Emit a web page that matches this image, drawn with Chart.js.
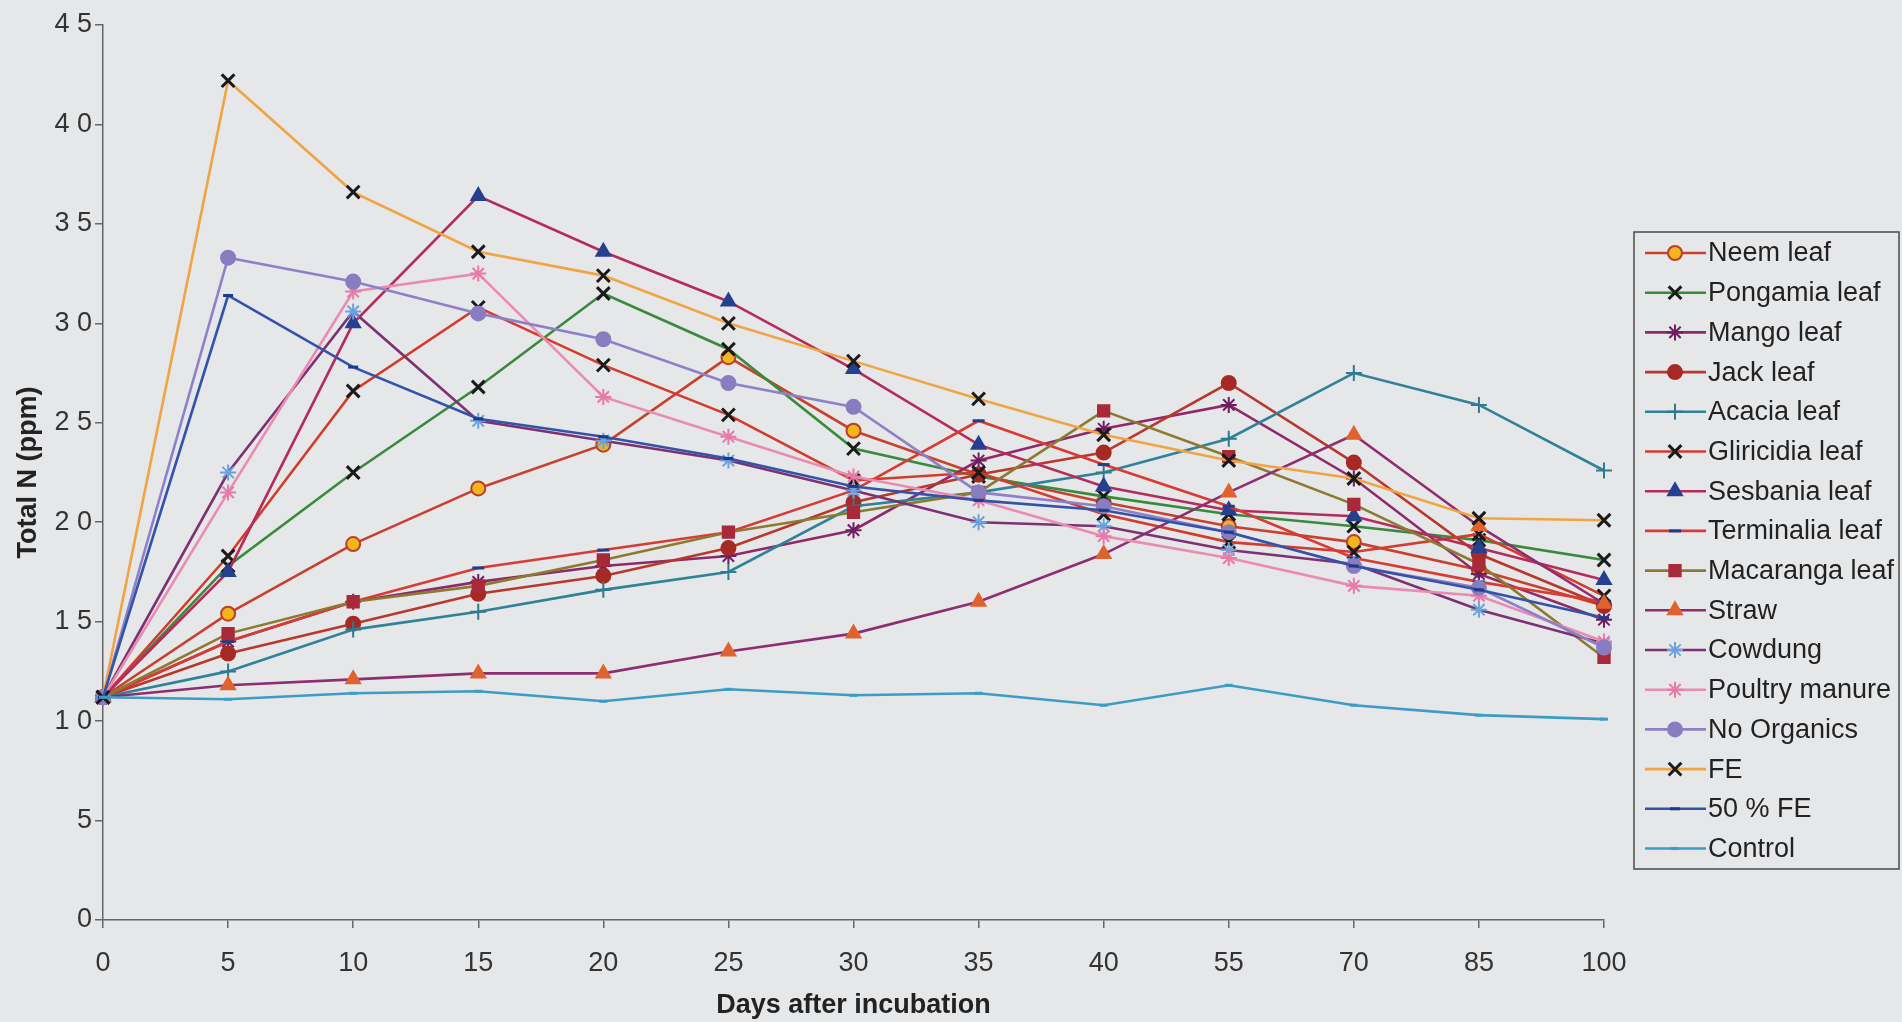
<!DOCTYPE html>
<html>
<head>
<meta charset="utf-8">
<script src="https://cdn.jsdelivr.net/npm/chart.js@4.4.0/dist/chart.umd.min.js"></script>
<style>
  html, body { margin: 0; padding: 0; background: #e6e7e9; }
  #wrap { width: 1902px; height: 1022px; }
</style>
</head>
<body>
<div id="wrap"><canvas id="nChart" width="1902" height="1022"></canvas></div>
<script>
// Days after incubation (x categories) and y tick labels as printed
var days = ['0', '5', '10', '15', '20', '25', '30', '35', '40', '55', '70', '85', '100'];
var yTickLabels = ['0', '5', '1 0', '1 5', '2 0', '2 5', '3 0', '3 5', '4 0', '4 5'];

// Total N values per treatment
var neemLeaf       = [11.2, 15.4, 18.9, 21.7, 23.9, 28.3, 24.6, 22.4, 21.0, 19.8, 19.0, 17.6, 15.8];
var pongamiaLeaf   = [11.2, 17.8, 22.5, 26.8, 31.5, 28.7, 23.7, 22.3, 21.3, 20.4, 19.8, 19.1, 18.1];
var mangoLeaf      = [11.2, 14.0, 16.0, 17.0, 17.8, 18.3, 19.6, 23.1, 24.7, 25.9, 22.2, 17.4, 15.1];
var jackLeaf       = [11.2, 13.4, 14.9, 16.4, 17.3, 18.7, 21.0, 22.4, 23.5, 27.0, 23.0, 18.4, 15.8];
var acaciaLeaf     = [11.2, 12.5, 14.6, 15.5, 16.6, 17.5, 20.8, 21.5, 22.5, 24.2, 27.5, 25.9, 22.6];
var gliricidiaLeaf = [11.2, 18.3, 26.6, 30.8, 27.9, 25.4, 22.1, 22.5, 20.4, 19.0, 18.5, 19.4, 16.3];
var sesbaniaLeaf   = [11.2, 17.5, 30.0, 36.4, 33.6, 31.1, 27.7, 23.9, 21.8, 20.6, 20.3, 18.7, 17.1];
var terminaliaLeaf = [11.2, 14.0, 16.0, 17.7, 18.6, 19.5, 21.6, 25.1, 22.9, 20.8, 18.2, 17.0, 16.0];
var macarangaLeaf  = [11.2, 14.4, 16.0, 16.8, 18.1, 19.5, 20.5, 21.5, 25.6, 23.3, 20.9, 17.9, 13.2];
var straw          = [11.2, 11.8, 12.1, 12.4, 12.4, 13.5, 14.4, 16.0, 18.4, 21.5, 24.4, 19.8, 15.9];
var cowdung        = [11.2, 22.5, 30.6, 25.1, 24.1, 23.1, 21.6, 20.0, 19.8, 18.6, 17.9, 15.6, 13.9];
var poultryManure  = [11.2, 21.5, 31.6, 32.5, 26.3, 24.3, 22.3, 21.1, 19.3, 18.2, 16.8, 16.3, 14.0];
var noOrganics     = [11.2, 33.3, 32.1, 30.5, 29.2, 27.0, 25.8, 21.5, 20.8, 19.5, 17.8, 16.7, 13.7];
var fe             = [11.2, 42.2, 36.6, 33.6, 32.4, 30.0, 28.1, 26.2, 24.4, 23.1, 22.2, 20.2, 20.1];
var halfFe         = [11.2, 31.4, 27.8, 25.2, 24.3, 23.2, 21.8, 21.1, 20.6, 19.5, 17.8, 16.6, 15.2];
var control        = [11.2, 11.1, 11.4, 11.5, 11.0, 11.6, 11.3, 11.4, 10.8, 11.8, 10.8, 10.3, 10.1];

// label, data, line colour, marker style, marker fill, marker border, marker radius
var series = [
  ['Neem leaf',       neemLeaf,       '#c8402e', 'circle',   '#f2b51e', '#b8402a', 7],
  ['Pongamia leaf',   pongamiaLeaf,   '#3a8a3e', 'crossRot', '#1a1a1a', '#1a1a1a', 9],
  ['Mango leaf',      mangoLeaf,      '#8e2a6a', 'star',     '#6e1e5e', '#6e1e5e', 8],
  ['Jack leaf',       jackLeaf,       '#b8382c', 'circle',   '#a52a26', '#a52a26', 7],
  ['Acacia leaf',     acaciaLeaf,     '#2f8298', 'cross',    '#2f7a90', '#2f7a90', 8],
  ['Gliricidia leaf', gliricidiaLeaf, '#d23c2c', 'crossRot', '#1a1a1a', '#1a1a1a', 9],
  ['Sesbania leaf',   sesbaniaLeaf,   '#b42c5c', 'triangle', '#24408e', '#24408e', 8],
  ['Terminalia leaf', terminaliaLeaf, '#d83a34', 'line',     '#1e3e8c', '#1e3e8c', 6],
  ['Macaranga leaf',  macarangaLeaf,  '#8c7a30', 'rect',     '#a82a3a', '#a82a3a', 8],
  ['Straw',           straw,          '#8e2e70', 'triangle', '#e0622e', '#e0622e', 8],
  ['Cowdung',         cowdung,        '#7c3272', 'star',     '#6aa2dc', '#6aa2dc', 8],
  ['Poultry manure',  poultryManure,  '#ea8cb2', 'star',     '#e67aa8', '#e67aa8', 8],
  ['No Organics',     noOrganics,     '#8e80c8', 'circle',   '#8a7cc0', '#8a7cc0', 7],
  ['FE',              fe,             '#f0a444', 'crossRot', '#1a1a1a', '#1a1a1a', 9],
  ['50 % FE',         halfFe,         '#3452a8', 'line',     '#1e3a8a', '#1e3a8a', 5],
  ['Control',         control,        '#3c9cc6', 'line',     '#3c9cc6', '#3c9cc6', 4]
];

var datasets = series.map(function (s, i) {
  return {
    label: s[0],
    data: s[1],
    borderColor: s[2],
    borderWidth: 2.6,
    pointStyle: s[3],
    pointBackgroundColor: s[4],
    pointBorderColor: s[5],
    pointRadius: s[6],
    pointBorderWidth: (s[3] === 'crossRot' || s[3] === 'line') ? 3 : 2,
    tension: 0,
    fill: false,
    order: series.length - i   // later series drawn on top, like the original
  };
});

// legend in a framed box on the right, line with marker in the middle
var legendBox = {
  id: 'legendBox',
  afterDraw: function (chart) {
    var ctx = chart.ctx;
    ctx.save();
    ctx.strokeStyle = '#4a4a4a';
    ctx.lineWidth = 1.5;
    ctx.strokeRect(1634, 232, 265, 637);
    ctx.font = '27px "Liberation Sans", Arial, sans-serif';
    ctx.textBaseline = 'middle';
    chart.data.datasets.forEach(function (ds, i) {
      var y = 253 + i * 39.7;
      ctx.strokeStyle = ds.borderColor;
      ctx.lineWidth = 2.6;
      ctx.beginPath();
      ctx.moveTo(1645, y);
      ctx.lineTo(1706, y);
      ctx.stroke();
      ctx.fillStyle = ds.pointBackgroundColor;
      ctx.strokeStyle = ds.pointBorderColor;
      ctx.lineWidth = ds.pointBorderWidth;
      Chart.helpers.drawPoint(ctx, {
        pointStyle: ds.pointStyle, rotation: 0,
        radius: ds.pointRadius, borderWidth: ds.pointBorderWidth
      }, 1675, y);
      ctx.fillStyle = '#222';
      ctx.fillText(ds.label, 1708, y + 1);
    });
    ctx.restore();
  }
};

var ctx = document.getElementById('nChart').getContext('2d');
var nChart = new Chart(ctx, {
  type: 'line',
  data: { labels: days, datasets: datasets },
  options: {
    responsive: false,
    animation: false,
    layout: { padding: { top: 25, right: 298, left: 0, bottom: 0 } },
    plugins: { legend: { display: false }, tooltip: { enabled: false } },
    scales: {
      x: {
        offset: false,
        afterFit: function (s) { s.height = 102; },
        grid: { drawOnChartArea: false, drawTicks: true, tickLength: 8, color: '#666', lineWidth: 1.5 },
        border: { color: '#666', width: 1.5 },
        ticks: { color: '#333', font: { family: '"Liberation Sans", Arial', size: 27 }, padding: 19, maxRotation: 0 },
        title: {
          display: true, text: 'Days after incubation', color: '#222',
          font: { family: '"Liberation Sans", Arial', size: 27, weight: 'bold' },
          padding: { top: 0, bottom: 0 }
        }
      },
      y: {
        min: 0, max: 45,
        afterFit: function (s) { s.width = 103; },
        grid: { drawOnChartArea: false, drawTicks: true, tickLength: 8, color: '#666', lineWidth: 1.5 },
        border: { color: '#666', width: 1.5 },
        ticks: {
          stepSize: 5, color: '#333', padding: 3,
          font: { family: '"Liberation Sans", Arial', size: 27 },
          callback: function (v, i) { return yTickLabels[i]; }
        },
        title: {
          display: true, text: 'Total N (ppm)', color: '#222',
          font: { family: '"Liberation Sans", Arial', size: 27, weight: 'bold' },
          padding: { top: 12, bottom: 0 }
        }
      }
    }
  },
  plugins: [legendBox]
});
</script>
</body>
</html>
